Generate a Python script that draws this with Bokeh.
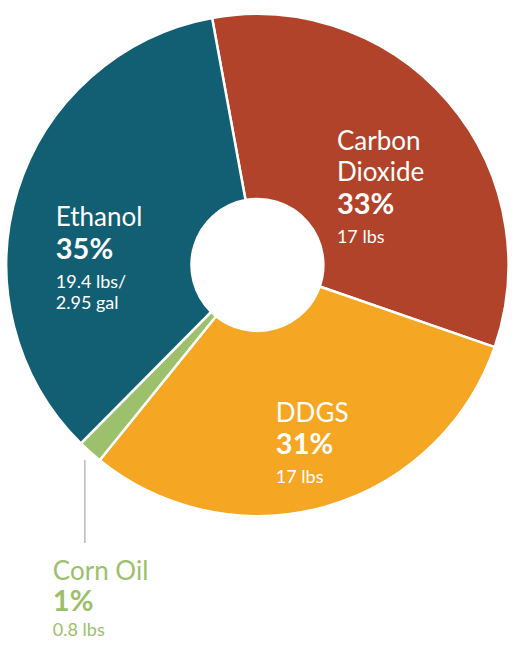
import math
from bokeh.plotting import figure
from bokeh.models import ColumnDataSource, Range1d
from bokeh.core.properties import value
from bokeh.embed import file_html
from bokeh.resources import INLINE

# ---- data (clockwise from the top, starting with Carbon Dioxide) ----
categories = ["Carbon Dioxide", "DDGS", "Corn Oil", "Ethanol"]
shares = [33.2, 30.5, 1.6, 34.7]          # slice sizes
pct_labels = ["33%", "31%", "1%", "35%"]
name_lines = [["Carbon", "Dioxide"], ["DDGS"], ["Corn Oil"], ["Ethanol"]]
weight_lines = [["17 lbs"], ["17 lbs"], ["0.8 lbs"], ["19.4 lbs/", "2.95 gal"]]

# ---- style / layout (in a 525 x 661 design space) ----
colors = ["#b1432a", "#f5a623", "#9cc06c", "#125e72"]
text_colors = ["white", "white", "#9cc06c", "white"]
W, H = 509, 645
DW, DH = 525, 661
CX, CY = 265, 271          # pie centre in design pixels
R_OUT, R_IN = 259, 68
START_DEG = 100.4          # math angle of first boundary
# label anchors: (left x, first-line baseline) in design pixels
anchors = [(347, 143), (284, 422), (54, 584), (57, 221)]
pct_gaps = [32, 31, 30, 32]
wt_gaps = [34, 34, 30, 34]
W_GAP = 22

def yy(yp):
    return -yp

total = sum(shares)
starts, ends = [], []
cum = 0.0
for s in shares:
    a0 = math.radians(START_DEG) - cum / total * 2 * math.pi
    cum += s
    a1 = math.radians(START_DEG) - cum / total * 2 * math.pi
    starts.append(a0)
    ends.append(a1)

src = ColumnDataSource(dict(cat=categories, share=shares, start=starts, end=ends, color=colors))

p = figure(width=W, height=H, output_backend="svg", toolbar_location=None,
           x_range=Range1d(0, DW), y_range=Range1d(-DH, 0),
           min_border=0)
p.axis.visible = False
p.grid.visible = False
p.outline_line_color = None
p.background_fill_color = "white"
p.border_fill_color = "white"

p.annular_wedge(x=CX, y=yy(CY), inner_radius=R_IN, outer_radius=R_OUT,
                start_angle="start", end_angle="end", direction="clock",
                fill_color="color", line_color="white", line_width=2.5, source=src)

# leader line for Corn Oil
p.segment(x0=[87], y0=[yy(471)], x1=[87], y1=[yy(556)],
          line_color="#b8bcbf", line_width=1.5)

name_d = dict(x=[], y=[], t=[], c=[])
pct_d = dict(x=[], y=[], t=[], c=[])
wt_d = dict(x=[], y=[], t=[], c=[])
for i in range(len(categories)):
    ax, by = anchors[i]
    yb = by
    for j, ln in enumerate(name_lines[i]):
        if j > 0:
            yb += 32
        name_d["x"].append(ax); name_d["y"].append(yy(yb))
        name_d["t"].append(ln); name_d["c"].append(text_colors[i])
    yb += pct_gaps[i]
    pct_d["x"].append(ax); pct_d["y"].append(yy(yb))
    pct_d["t"].append(pct_labels[i]); pct_d["c"].append(text_colors[i])
    for j, ln in enumerate(weight_lines[i]):
        yb += wt_gaps[i] if j == 0 else W_GAP
        wt_d["x"].append(ax); wt_d["y"].append(yy(yb))
        wt_d["t"].append(ln); wt_d["c"].append(text_colors[i])

p.text(x="x", y="y", text="t", text_color="c", source=ColumnDataSource(name_d),
       text_font=value("Lato"), text_font_size="26px",
       text_align="left", text_baseline="alphabetic")
p.text(x="x", y="y", text="t", text_color="c", source=ColumnDataSource(pct_d),
       text_font=value("Lato"), text_font_size="29px", text_font_style="bold",
       text_align="left", text_baseline="alphabetic")
p.text(x="x", y="y", text="t", text_color="c", source=ColumnDataSource(wt_d),
       text_font=value("Lato"), text_font_size="18px",
       text_align="left", text_baseline="alphabetic")

open("out.html", "w").write(file_html(p, INLINE))
